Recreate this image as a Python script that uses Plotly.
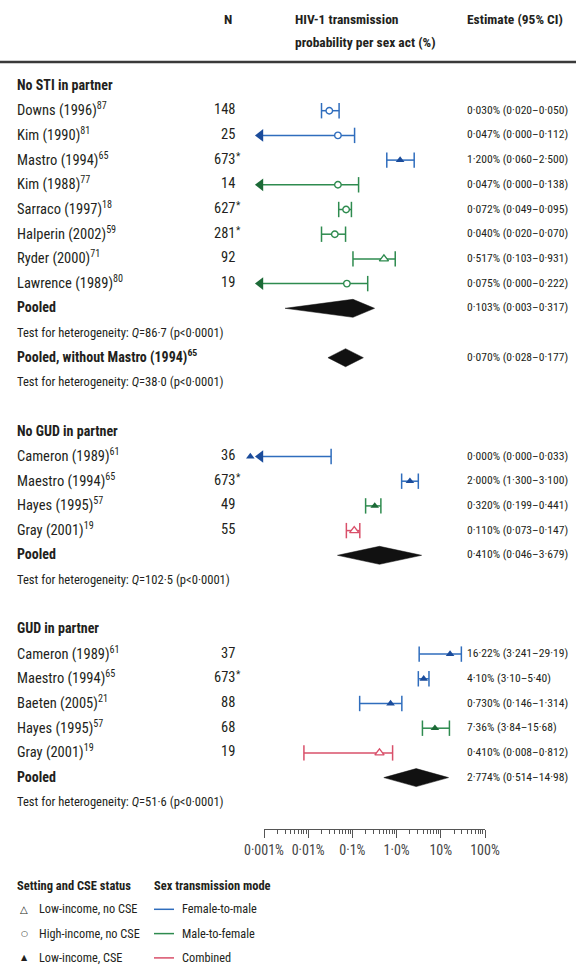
import plotly.graph_objects as go

W, H = 576, 973

# ---------------- data ----------------
section_titles = ["No STI in partner", "No GUD in partner", "GUD in partner"]

study_names = [
    "Downs (1996)<sup>87</sup>", "Kim (1990)<sup>81</sup>", "Mastro (1994)<sup>65</sup>",
    "Kim (1988)<sup>77</sup>", "Sarraco (1997)<sup>18</sup>", "Halperin (2002)<sup>59</sup>",
    "Ryder (2000)<sup>71</sup>", "Lawrence (1989)<sup>80</sup>",
    "Cameron (1989)<sup>61</sup>", "Maestro (1994)<sup>65</sup>", "Hayes (1995)<sup>57</sup>",
    "Gray (2001)<sup>19</sup>",
    "Cameron (1989)<sup>61</sup>", "Maestro (1994)<sup>65</sup>", "Baeten (2005)<sup>21</sup>",
    "Hayes (1995)<sup>57</sup>", "Gray (2001)<sup>19</sup>",
]
study_section = [0, 0, 0, 0, 0, 0, 0, 0, 1, 1, 1, 1, 2, 2, 2, 2, 2]
study_n = ["148", "25", "673", "14", "627", "281", "92", "19",
           "36", "673", "49", "55",
           "37", "673", "88", "68", "19"]
study_n_star = [False, False, True, False, True, True, False, False,
                False, True, False, False,
                False, True, False, False, False]
study_est = [0.030, 0.047, 1.200, 0.047, 0.072, 0.040, 0.517, 0.075,
             0.000, 2.000, 0.320, 0.110,
             16.22, 4.10, 0.730, 7.36, 0.410]
study_lo = [0.020, 0.000, 0.600, 0.000, 0.049, 0.020, 0.103, 0.000,
            0.000, 1.300, 0.199, 0.073,
            3.241, 3.10, 0.146, 3.84, 0.008]
study_hi = [0.050, 0.112, 2.500, 0.138, 0.095, 0.070, 0.931, 0.222,
            0.033, 3.100, 0.441, 0.147,
            29.19, 5.40, 1.314, 15.68, 0.812]
study_mode = ["FM", "FM", "FM", "MF", "MF", "MF", "MF", "MF",
              "FM", "FM", "MF", "C",
              "FM", "FM", "FM", "MF", "C"]
study_setting = ["HI", "HI", "LC", "HI", "HI", "HI", "LN", "HI",
                 "LC", "LC", "LC", "LN",
                 "LC", "LC", "LC", "LC", "LN"]
study_ci_text = [
    "0·030% (0·020–0·050)", "0·047% (0·000–0·112)", "1·200% (0·060–2·500)",
    "0·047% (0·000–0·138)", "0·072% (0·049–0·095)", "0·040% (0·020–0·070)",
    "0·517% (0·103–0·931)", "0·075% (0·000–0·222)",
    "0·000% (0·000–0·033)", "2·000% (1·300–3·100)", "0·320% (0·199–0·441)",
    "0·110% (0·073–0·147)",
    "16·22% (3·241–29·19)", "4·10% (3·10–5·40)", "0·730% (0·146–1·314)",
    "7·36% (3·84–15·68)", "0·410% (0·008–0·812)",
]

pooled_labels = ["Pooled", "Pooled, without Mastro (1994)<sup>65</sup>", "Pooled", "Pooled"]
pooled_section = [0, 0, 1, 2]
pooled_est = [0.103, 0.070, 0.410, 2.774]
pooled_lo = [0.003, 0.028, 0.046, 0.514]
pooled_hi = [0.317, 0.177, 3.679, 14.98]
pooled_ci_text = ["0·103% (0·003–0·317)", "0·070% (0·028–0·177)",
                  "0·410% (0·046–3·679)", "2·774% (0·514–14·98)"]
het_q = ["86·7", "38·0", "102·5", "51·6"]

tick_vals = [0.001, 0.01, 0.1, 1, 10, 100]
tick_text = ["0·001%", "0·01%", "0·1%", "1·0%", "10%", "100%"]

mode_names = {"FM": "Female-to-male", "MF": "Male-to-female", "C": "Combined"}
setting_names = {"LN": "Low-income, no CSE", "HI": "High-income, no CSE", "LC": "Low-income, CSE"}

# ---------------- style ----------------
FONT = "Liberation Sans Narrow, Roboto Condensed, DejaVu Sans Condensed, Roboto, sans-serif"
FS_NAME = 14.5
FS_N = 14.5
FS_EST = 11.6
FS_TEST = 12.6
FS_BOLD = 14
FS_HEAD = 13.5
FS_LEG = 12.3
TXT = "#231f20"
LINE_COL = {"FM": "#2f6dbd", "MF": "#2e8b4f", "C": "#d9506a"}
DARK_COL = {"FM": "#1b4c9b", "MF": "#1c6a37", "C": "#b83350"}

ROW0_PX, ROW_PX = 85.0, 24.7
AX_L_PX, AX_R_PX = 264.0, 485.0
DEC_PX = (AX_R_PX - AX_L_PX) / 5.0
ARROW_LOG = -3.08     # where truncated (zero) lower limits are drawn
ZERO_EST_LOG = -3.31  # where a zero estimate is drawn
MARK_DY = 1.0 / ROW_PX  # marks sit slightly below the text centre


def ypx(idx):
    return ROW0_PX + idx * ROW_PX


# ---------------- row layout ----------------
rows = []  # (kind, index)
for s in range(len(section_titles)):
    if s > 0:
        rows.append(("gap", None))
    rows.append(("section", s))
    for i, sec in enumerate(study_section):
        if sec == s:
            rows.append(("study", i))
    for p, sec in enumerate(pooled_section):
        if sec == s:
            rows.append(("pooled", p))
            rows.append(("test", p))

study_row = {}
pooled_row = {}
for r, (kind, i) in enumerate(rows):
    if kind == "study":
        study_row[i] = r + MARK_DY
    elif kind == "pooled":
        pooled_row[i] = r + MARK_DY

fig = go.Figure()

# CI lines, caps, arrows, estimates
for mode in ["FM", "MF", "C"]:
    lx, ly, capx, capy, arx, ary = [], [], [], [], [], []
    for i in range(len(study_names)):
        if study_mode[i] != mode:
            continue
        r = study_row[i]
        lo = study_lo[i] if study_lo[i] > 0 else 10 ** ARROW_LOG
        lx += [lo, study_hi[i], None]
        ly += [r, r, None]
        capx.append(study_hi[i]); capy.append(r)
        if study_lo[i] > 0:
            capx.append(study_lo[i]); capy.append(r)
        else:
            arx.append(10 ** ARROW_LOG); ary.append(r)
    fig.add_trace(go.Scatter(x=lx, y=ly, mode="lines", line=dict(color=LINE_COL[mode], width=1.5),
                             hoverinfo="skip", showlegend=False))
    fig.add_trace(go.Scatter(x=capx, y=capy, mode="markers",
                             marker=dict(symbol="line-ns-open", size=11, color=LINE_COL[mode],
                                         line=dict(color=LINE_COL[mode], width=1.5)),
                             hoverinfo="skip", showlegend=False))
    if arx:
        fig.add_trace(go.Scatter(x=arx, y=ary, mode="markers",
                                 marker=dict(symbol="triangle-left", size=11, color=DARK_COL[mode],
                                             line=dict(width=0)),
                                 hoverinfo="skip", showlegend=False))
    for setting in ["HI", "LN", "LC"]:
        ex, ey = [], []
        for i in range(len(study_names)):
            if study_mode[i] == mode and study_setting[i] == setting:
                ex.append(study_est[i] if study_est[i] > 0 else 10 ** ZERO_EST_LOG)
                ey.append(study_row[i])
        if not ex:
            continue
        if setting == "HI":
            mk = dict(symbol="circle", size=6.5, color="white", line=dict(color=LINE_COL[mode], width=1.4))
        elif setting == "LN":
            mk = dict(symbol="triangle-up", size=8, color="white", line=dict(color=LINE_COL[mode], width=1.4))
        else:
            mk = dict(symbol="triangle-up", size=7.5, color=DARK_COL[mode], line=dict(width=0))
        fig.add_trace(go.Scatter(x=ex, y=ey, mode="markers", marker=mk, hoverinfo="skip",
                                 showlegend=False, cliponaxis=False))

# pooled diamonds
DH = 9.0 / ROW_PX
for p in range(len(pooled_labels)):
    r = pooled_row[p]
    fig.add_trace(go.Scatter(
        x=[pooled_lo[p], pooled_est[p], pooled_hi[p], pooled_est[p], pooled_lo[p]],
        y=[r, r - DH, r, r + DH, r], mode="lines", fill="toself",
        fillcolor="#111111", line=dict(color="#111111", width=0.5),
        hoverinfo="skip", showlegend=False))

# invisible trace to carry the display axis
fig.add_trace(go.Scatter(x=[tick_vals[0], tick_vals[-1]], y=[None, None], xaxis="x2", yaxis="y",
                         mode="markers", marker=dict(opacity=0), hoverinfo="skip", showlegend=False))

# ---------------- text ----------------
ann = []


def txt(text, xp, yp, anchor="left", size=FS_NAME, bold=False, color=TXT, yshift=0, family=FONT):
    ann.append(dict(text=("<b>%s</b>" % text) if bold else text, x=xp / W, y=1 - yp / H,
                    xref="paper", yref="paper", xanchor=anchor, yanchor="middle",
                    showarrow=False, yshift=yshift, font=dict(size=size, color=color, family=family)))


NAME_X, N_X, EST_X = 15, 237, 465
txt("N", 228, 19, anchor="center", bold=True, size=FS_HEAD)
txt("HIV-1 transmission", 293, 19, bold=True, size=FS_HEAD)
txt("probability per sex act (%)", 293, 42, bold=True, size=FS_HEAD)
txt("Estimate (95% CI)", EST_X, 19, bold=True, size=FS_HEAD)

for r, (kind, i) in enumerate(rows):
    y = ypx(r)
    if kind == "section":
        txt(section_titles[i], NAME_X, y, bold=True, size=FS_BOLD)
    elif kind == "study":
        txt(study_names[i], NAME_X, y)
        txt(study_n[i], N_X, y, anchor="right", size=FS_N)
        if study_n_star[i]:
            txt("*", N_X - 3, y, size=10, yshift=3)
        txt(study_ci_text[i], EST_X, y, size=FS_EST)
    elif kind == "pooled":
        txt(pooled_labels[i], NAME_X, y, bold=True, size=FS_BOLD)
        txt(pooled_ci_text[i], EST_X, y, size=FS_EST)
    elif kind == "test":
        txt("Test for heterogeneity: <i>Q</i>=%s (p&lt;0·0001)" % het_q[i], NAME_X, y, size=FS_TEST)

# legend
LEG_Y0, LEG_DY = 885, 24.3
txt("Setting and CSE status", NAME_X, LEG_Y0, bold=True, size=12.5)
txt("Sex transmission mode", 152, LEG_Y0, bold=True, size=12.5)
glyphs = {"LN": ("△", 10), "HI": ("○", 8), "LC": ("▲", 8)}
shapes = []
for k, s in enumerate(["LN", "HI", "LC"]):
    y = LEG_Y0 + (k + 1) * LEG_DY
    g, gs = glyphs[s]
    txt(g, 24, y, anchor="center", size=gs, family="DejaVu Sans")
    txt(setting_names[s], 37, y, size=FS_LEG)
for k, m in enumerate(["FM", "MF", "C"]):
    y = LEG_Y0 + (k + 1) * LEG_DY
    shapes.append(dict(type="line", xref="paper", yref="paper", x0=154 / W, x1=174 / W,
                       y0=1 - y / H, y1=1 - y / H, line=dict(color=LINE_COL[m], width=1.5)))
    txt(mode_names[m], 180, y, size=FS_LEG)

# top rule
shapes.append(dict(type="line", xref="paper", yref="paper", x0=0, x1=1,
                   y0=1 - 62 / H, y1=1 - 62 / H, line=dict(color="#3a3a3a", width=2.5)))

minor_vals = [m * 10.0 ** e for e in range(-3, 2) for m in range(2, 10)]
AXIS_Y_PX = 829

fig.update_layout(
    width=W, height=H, autosize=False,
    margin=dict(l=0, r=0, t=0, b=0, pad=0, autoexpand=False),
    paper_bgcolor="white", plot_bgcolor="rgba(0,0,0,0)",
    showlegend=False,
    xaxis=dict(type="log", domain=[0, 1],
               range=[-3 - AX_L_PX / DEC_PX, 2 + (W - AX_R_PX) / DEC_PX],
               visible=False, fixedrange=True, automargin=False),
    yaxis=dict(domain=[0, 1], range=[(H - ROW0_PX) / ROW_PX, -ROW0_PX / ROW_PX],
               visible=False, fixedrange=True, automargin=False),
    xaxis2=dict(type="log", domain=[AX_L_PX / W, AX_R_PX / W], range=[-3, 2],
                anchor="free", position=1 - AXIS_Y_PX / H, automargin=False,
                showline=True, linecolor="#555", linewidth=1.3,
                ticks="outside", ticklen=8, tickwidth=1.3, tickcolor="#555",
                tickvals=tick_vals, ticktext=tick_text,
                tickfont=dict(size=14, color="#444", family=FONT),
                showgrid=False, zeroline=False, fixedrange=True,
                minor=dict(tickvals=minor_vals, ticks="outside", ticklen=4, tickwidth=1,
                           tickcolor="#555", showgrid=False)),
    annotations=ann, shapes=shapes,
)

fig.write_html("out.html", config={"displayModeBar": False, "responsive": False},
               post_script="document.body.style.margin='0';document.body.style.overflow='hidden';")
